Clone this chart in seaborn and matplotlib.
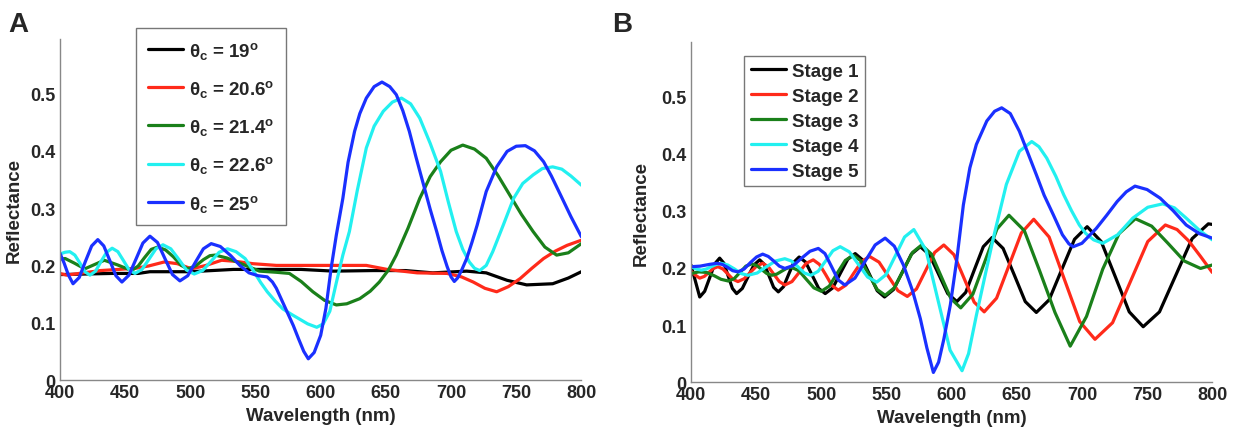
import numpy as np
import pandas as pd
import matplotlib
matplotlib.use("Agg")
import matplotlib.pyplot as plt
import seaborn as sns
from matplotlib.lines import Line2D

# ---------------- data: panel A (reflectance vs wavelength) ----------------
a_labels = ["19", "20.6", "21.4", "22.6", "25"]

a_black_x = [400, 420, 440, 460, 469, 500, 533, 560, 585, 610, 640, 665, 686, 712, 727, 743, 758, 778, 790, 800]
a_black_y = [0.184, 0.185, 0.186, 0.186, 0.189, 0.189, 0.193, 0.193, 0.193, 0.190, 0.191, 0.191, 0.187, 0.190,
             0.187, 0.174, 0.166, 0.168, 0.178, 0.189]

a_red_x = [400, 405, 418, 431, 445, 458, 468, 480, 490, 501, 512, 524, 535, 548, 566, 584, 609, 635, 651, 674,
           697, 708, 717, 726, 735, 744, 753, 762, 771, 780, 789, 800]
a_red_y = [0.186, 0.183, 0.187, 0.191, 0.193, 0.195, 0.199, 0.206, 0.203, 0.194, 0.200, 0.209, 0.207, 0.203,
           0.200, 0.200, 0.200, 0.200, 0.193, 0.187, 0.186, 0.180, 0.171, 0.160, 0.154, 0.163, 0.177, 0.195,
           0.212, 0.225, 0.235, 0.244]

a_green_x = [400, 404, 411, 419, 426, 434, 444, 455, 460, 465, 470, 475, 481, 487, 493, 498, 504, 510, 515, 519,
             528, 539, 553, 566, 576, 585, 594, 603, 612, 620, 630, 638, 645, 652, 658, 667, 676, 684, 692, 700,
             709, 718, 727, 736, 745, 754, 763, 772, 781, 790, 800]
a_green_y = [0.211, 0.212, 0.204, 0.194, 0.201, 0.209, 0.201, 0.191, 0.199, 0.214, 0.228, 0.232, 0.227, 0.215,
             0.200, 0.194, 0.199, 0.210, 0.217, 0.218, 0.213, 0.203, 0.190, 0.188, 0.186, 0.172, 0.154, 0.139,
             0.131, 0.133, 0.142, 0.155, 0.171, 0.192, 0.218, 0.265, 0.317, 0.355, 0.381, 0.401, 0.410, 0.403,
             0.387, 0.357, 0.323, 0.289, 0.259, 0.232, 0.218, 0.222, 0.238]

a_cyan_x = [400, 404, 407.5, 411.4, 415.3, 419.1, 423, 427.3, 431.5, 435.8, 440, 444.4, 448.8, 453.1, 457.5,
            462.9, 468.3, 473.6, 479, 485, 491, 497, 503, 509.4, 515.8, 522.1, 528.5, 535, 542, 548, 554, 559,
            565, 571, 578, 584, 590, 597, 602, 607, 612, 617, 622, 628, 635, 641, 648, 655, 662, 669, 676, 684,
            692, 698, 704, 709, 714, 718, 722, 727, 732, 740, 748, 755, 763, 770, 778, 785, 792, 800]
a_cyan_y = [0.220, 0.223, 0.224, 0.218, 0.204, 0.189, 0.183, 0.190, 0.207, 0.223, 0.230, 0.224, 0.208, 0.192,
            0.186, 0.193, 0.211, 0.229, 0.236, 0.229, 0.211, 0.192, 0.185, 0.191, 0.207, 0.223, 0.229, 0.224,
            0.212, 0.192, 0.170, 0.154, 0.138, 0.124, 0.114, 0.106, 0.098, 0.092, 0.098, 0.120, 0.170, 0.218,
            0.259, 0.330, 0.405, 0.443, 0.469, 0.485, 0.492, 0.482, 0.457, 0.413, 0.364, 0.310, 0.259, 0.228,
            0.206, 0.195, 0.191, 0.200, 0.224, 0.270, 0.317, 0.343, 0.358, 0.369, 0.372, 0.368, 0.356, 0.340]

a_blue_x = [400, 403, 406.5, 410, 414.8, 419.5, 424.3, 429, 433.6, 438.3, 442.9, 447.5, 452.9, 458.3, 463.6, 469,
            474.8, 480.5, 486.3, 492, 498, 504, 510, 516, 523, 531, 538, 545, 552, 559, 563, 566, 572, 579, 583,
            587, 590.5, 595, 600, 604, 608, 612, 617, 621, 626, 630, 635, 641, 647, 653, 658, 663, 668, 673, 679,
            684, 689, 693, 697, 700, 702.5, 705, 708, 712, 716, 720, 727, 735, 743, 750, 757, 764, 771, 777, 784,
            792, 800]
a_blue_y = [0.221, 0.205, 0.183, 0.168, 0.179, 0.207, 0.234, 0.245, 0.234, 0.208, 0.182, 0.171, 0.183, 0.211,
            0.239, 0.251, 0.240, 0.212, 0.184, 0.173, 0.182, 0.206, 0.229, 0.238, 0.233, 0.217, 0.200, 0.187,
            0.182, 0.180, 0.171, 0.160, 0.130, 0.095, 0.072, 0.050, 0.037, 0.048, 0.078, 0.125, 0.195, 0.253,
            0.317, 0.380, 0.434, 0.465, 0.492, 0.512, 0.520, 0.512, 0.498, 0.470, 0.434, 0.390, 0.340, 0.298,
            0.259, 0.226, 0.198, 0.180, 0.172, 0.178, 0.191, 0.212, 0.240, 0.270, 0.329, 0.372, 0.399, 0.408,
            0.409, 0.400, 0.381, 0.356, 0.323, 0.285, 0.250]

# ---------------- data: panel B ----------------
b_labels = ["Stage 1", "Stage 2", "Stage 3", "Stage 4", "Stage 5"]

b_s1_x = [400, 403, 406.7, 410.5, 414.4, 418.2, 422, 425.3, 428.5, 431.8, 435, 439.4, 443.9, 448.3, 452.7, 456.3,
          459.9, 463.4, 467, 471, 475, 479, 483, 488, 493, 498, 503, 508.8, 514.5, 520.3, 526, 531.6, 537.3,
          542.9, 548.5, 555.4, 562.3, 569.1, 576, 583, 590, 597, 604, 610.8, 617.5, 624.3, 631, 639.5, 648,
          656.5, 665, 674.8, 684.5, 694.3, 704, 714.8, 725.5, 736.3, 747, 759.5, 772, 784.5, 797, 800]
b_s1_y = [0.205, 0.180, 0.149, 0.159, 0.183, 0.207, 0.217, 0.208, 0.186, 0.164, 0.155, 0.164, 0.185, 0.205,
          0.214, 0.206, 0.186, 0.166, 0.158, 0.167, 0.189, 0.210, 0.219, 0.210, 0.187, 0.164, 0.155, 0.165,
          0.190, 0.215, 0.225, 0.214, 0.187, 0.160, 0.149, 0.162, 0.193, 0.224, 0.237, 0.223, 0.189, 0.155,
          0.141, 0.157, 0.197, 0.237, 0.253, 0.234, 0.188, 0.141, 0.122, 0.144, 0.197, 0.250, 0.272, 0.246,
          0.185, 0.123, 0.097, 0.123, 0.187, 0.251, 0.277, 0.276]

b_s2_x = [400, 403.5, 406.7, 410.2, 413.7, 417.2, 420.7, 424.5, 428.4, 432.2, 436, 440.8, 445.5, 450.3, 455,
          459.3, 463.5, 467.8, 472, 477.5, 483, 488.4, 493.8, 498.6, 503.4, 508.2, 513, 519, 525, 531, 537,
          544.3, 551.5, 558.8, 566, 573, 580, 587, 594, 601.8, 609.5, 617.3, 625, 634.5, 644, 653.5, 663, 674.8,
          686.5, 698.3, 710, 723.5, 737, 750.5, 764, 773, 782, 791, 800]
b_s2_y = [0.194, 0.187, 0.182, 0.185, 0.192, 0.199, 0.202, 0.198, 0.189, 0.180, 0.176, 0.181, 0.192, 0.203,
          0.208, 0.202, 0.189, 0.176, 0.170, 0.176, 0.192, 0.208, 0.214, 0.206, 0.188, 0.169, 0.161, 0.170,
          0.191, 0.211, 0.220, 0.210, 0.185, 0.160, 0.150, 0.163, 0.195, 0.227, 0.240, 0.223, 0.182, 0.140,
          0.123, 0.147, 0.204, 0.261, 0.285, 0.254, 0.180, 0.106, 0.075, 0.104, 0.175, 0.246, 0.275, 0.267,
          0.247, 0.220, 0.192]

b_s3_x = [400, 406, 412, 418, 423, 428.6, 433.1, 437.6, 442.1, 446.6, 450.5, 454.3, 458.2, 462, 465.8, 469.5,
          473.3, 477, 482.8, 488.5, 494.3, 500, 506.1, 512.3, 518.4, 524.5, 530.6, 536.8, 542.9, 549, 556, 563,
          570, 577, 584.5, 592, 599.5, 607, 616.3, 625.5, 634.8, 644, 655.8, 667.5, 679.3, 691, 703.5, 716,
          728.5, 741, 753.5, 766, 778.5, 791, 800]
b_s3_y = [0.190, 0.193, 0.192, 0.186, 0.180, 0.177, 0.181, 0.192, 0.203, 0.207, 0.204, 0.197, 0.190, 0.187,
          0.189, 0.194, 0.199, 0.201, 0.195, 0.180, 0.165, 0.159, 0.168, 0.191, 0.213, 0.222, 0.212, 0.187,
          0.162, 0.152, 0.165, 0.196, 0.227, 0.240, 0.224, 0.185, 0.146, 0.130, 0.154, 0.211, 0.268, 0.292,
          0.265, 0.195, 0.122, 0.063, 0.115, 0.198, 0.260, 0.286, 0.273, 0.243, 0.212, 0.199, 0.205]

b_s4_x = [400, 404, 408, 411.8, 415.5, 419.3, 423, 428.2, 433.4, 438.5, 443.7, 450.8, 457.9, 464.9, 472, 477,
          482, 487, 492, 497.6, 503.3, 508.9, 514.5, 521.5, 528.5, 535.5, 542.5, 549.6, 556.8, 563.9, 571,
          580.3, 589.5, 598.8, 608, 613, 619, 626, 632, 642, 652, 661.5, 667, 673, 680, 686, 692, 698, 703, 709,
          716, 727.5, 739, 750.5, 762, 771, 780, 790, 800]
b_s4_y = [0.202, 0.198, 0.196, 0.198, 0.202, 0.206, 0.208, 0.205, 0.198, 0.190, 0.187, 0.191, 0.202, 0.212,
          0.216, 0.212, 0.202, 0.191, 0.187, 0.194, 0.212, 0.230, 0.237, 0.228, 0.206, 0.184, 0.175, 0.188,
          0.221, 0.254, 0.267, 0.231, 0.144, 0.056, 0.020, 0.050, 0.117, 0.190, 0.252, 0.346, 0.404, 0.421,
          0.412, 0.392, 0.360, 0.328, 0.300, 0.275, 0.260, 0.249, 0.243, 0.258, 0.287, 0.306, 0.312, 0.305,
          0.287, 0.266, 0.249]

b_s5_x = [400, 407, 414, 420, 424, 428, 432, 436, 440.8, 445.5, 450.3, 455, 459.3, 463.5, 467.8, 472, 478.4,
          484.9, 491.3, 497.7, 502.8, 507.9, 512.9, 518, 525.8, 533.5, 541.3, 549, 556, 563, 570, 576, 581, 586,
          590, 594, 599, 604, 609, 614, 619, 627, 633, 638.4, 645, 652, 658, 665, 671, 678, 685, 690, 693.3, 700,
          711, 719, 727, 734, 740.7, 750, 760, 770, 780, 790, 800]
b_s5_y = [0.202, 0.203, 0.206, 0.208, 0.206, 0.201, 0.195, 0.193, 0.198, 0.209, 0.219, 0.224, 0.220, 0.212,
          0.203, 0.199, 0.204, 0.217, 0.229, 0.234, 0.225, 0.202, 0.179, 0.170, 0.182, 0.211, 0.240, 0.252,
          0.238, 0.205, 0.160, 0.111, 0.060, 0.017, 0.035, 0.075, 0.135, 0.215, 0.310, 0.375, 0.416, 0.457,
          0.474, 0.480, 0.470, 0.439, 0.404, 0.363, 0.327, 0.293, 0.258, 0.242, 0.237, 0.243, 0.269, 0.292,
          0.316, 0.333, 0.343, 0.337, 0.322, 0.300, 0.275, 0.260, 0.252]

x_ticks = [400, 450, 500, 550, 600, 650, 700, 750, 800]
y_ticks = [0, 0.1, 0.2, 0.3, 0.4, 0.5]
y_tick_labels = ["0", "0.1", "0.2", "0.3", "0.4", "0.5"]

colors = ["#000000", "#ff2a1a", "#1a801a", "#22f0f0", "#1a30ff"]

# ---------------- styling ----------------
sns.set_theme(style="white")
plt.rcParams["font.family"] = ["Liberation Sans", "DejaVu Sans"]
plt.rcParams["font.weight"] = "bold"
plt.rcParams["mathtext.fontset"] = "custom"
plt.rcParams["mathtext.rm"] = "Liberation Sans:bold"
plt.rcParams["mathtext.bf"] = "Liberation Sans:bold"
plt.rcParams["mathtext.it"] = "Liberation Sans"

FS_TICK = 13
FS_LAB = 13.5


def long_df(xs, ys, names):
    frames = []
    for x, y, n in zip(xs, ys, names):
        frames.append(pd.DataFrame({"wl": x, "R": y, "series": n}))
    return pd.concat(frames, ignore_index=True)


a_names = [r"$\theta_{c}$ = " + v + r"$^{o}$" for v in a_labels]
df_a = long_df([a_black_x, a_red_x, a_green_x, a_cyan_x, a_blue_x],
               [a_black_y, a_red_y, a_green_y, a_cyan_y, a_blue_y], a_names)
df_b = long_df([b_s1_x, b_s2_x, b_s3_x, b_s4_x, b_s5_x],
               [b_s1_y, b_s2_y, b_s3_y, b_s4_y, b_s5_y], b_labels)

fig = plt.figure(figsize=(12.37, 4.31), dpi=100)
ax_a = fig.add_axes([0.0485, 0.116, 0.4215, 0.791])
ax_b = fig.add_axes([0.5586, 0.111, 0.4214, 0.789])

LW = 2.3
for ax, df, names, ylx in [(ax_a, df_a, a_names, -0.071), (ax_b, df_b, b_labels, -0.079)]:
    sns.lineplot(data=df, x="wl", y="R", hue="series", hue_order=names,
                 palette=colors, estimator=None, sort=False, lw=LW, ax=ax, legend=False)
    for ln in ax.get_lines():
        ln.set_solid_joinstyle("round")
    ax.set_xlim(400, 800)
    ax.set_ylim(0, 0.595)
    ax.set_xticks(x_ticks)
    ax.set_xticklabels([str(t) for t in x_ticks], fontsize=FS_TICK, fontweight="bold")
    ax.set_yticks(y_ticks)
    ax.set_yticklabels(y_tick_labels, fontsize=FS_TICK, fontweight="bold")
    ax.tick_params(direction="in", length=4, width=0.8, color="#777777", pad=3)
    for s in ["top", "right"]:
        ax.spines[s].set_visible(False)
    for s in ["left", "bottom"]:
        ax.spines[s].set_color("#888888")
        ax.spines[s].set_linewidth(1.0)
    ax.set_xlabel("Wavelength (nm)", fontsize=FS_LAB, fontweight="bold", labelpad=4)
    ax.set_ylabel("Reflectance", fontsize=FS_LAB, fontweight="bold")
    ax.yaxis.set_label_coords(ylx, 0.5)

handles_a = [Line2D([0], [0], color=c, lw=LW) for c in colors]
leg_a = fig.legend(handles_a, a_names, loc="upper left", bbox_to_anchor=(0.110, 0.933),
                   fontsize=FS_LAB, frameon=True, fancybox=False, edgecolor="#555555",
                   handlelength=1.9, handletextpad=0.3, labelspacing=0.92, borderpad=0.62,
                   borderaxespad=0)
leg_a.get_frame().set_linewidth(1.0)

handles_b = [Line2D([0], [0], color=c, lw=LW) for c in colors]
leg_b = fig.legend(handles_b, b_labels, loc="upper left", bbox_to_anchor=(0.6015, 0.8677),
                   fontsize=FS_LAB, frameon=True, fancybox=False, edgecolor="#555555",
                   handlelength=1.9, handletextpad=0.3, labelspacing=0.42, borderpad=0.35,
                   borderaxespad=0)
leg_b.get_frame().set_linewidth(1.0)

fig.text(8 / 1237, 1 - 32 / 431, "A", fontsize=20, fontweight="bold", va="baseline", ha="left")
fig.text(612 / 1237, 1 - 32 / 431, "B", fontsize=20, fontweight="bold", va="baseline", ha="left")

fig.savefig("out.png", dpi=100)
